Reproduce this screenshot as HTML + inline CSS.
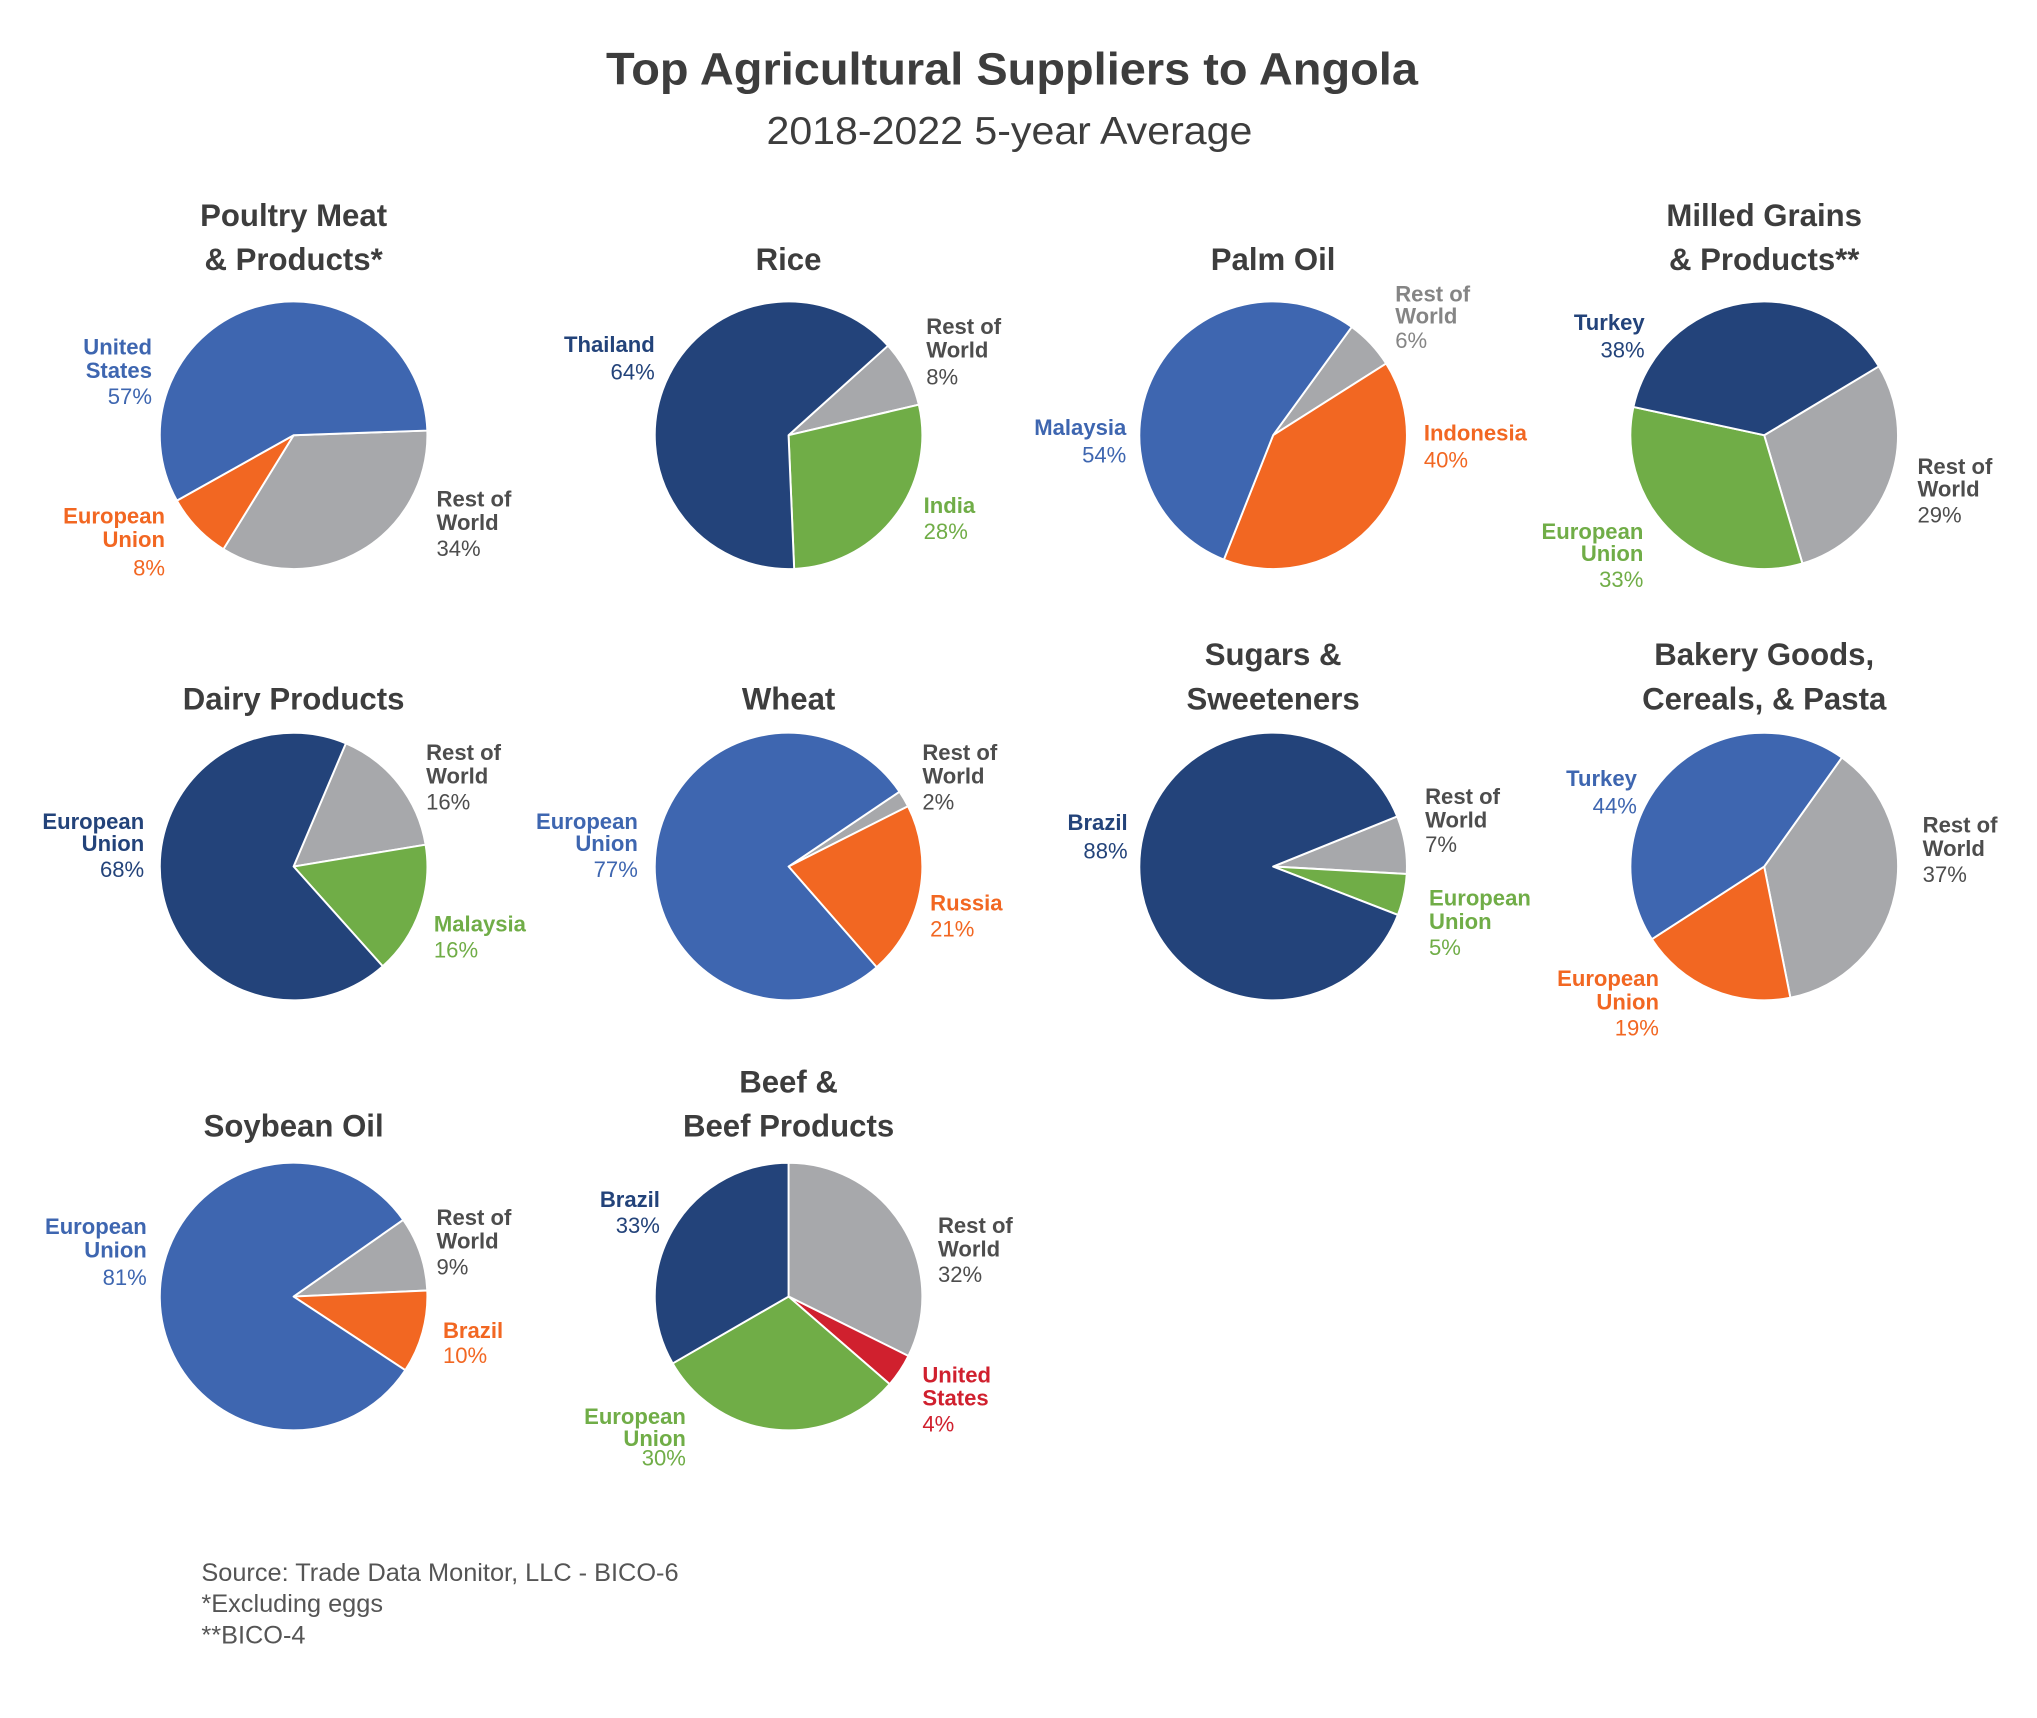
<!DOCTYPE html>
<html><head><meta charset="utf-8"><style>
html,body{margin:0;padding:0;background:#fff;}
svg{display:block;font-family:"Liberation Sans",Arial,sans-serif;}
</style></head><body>
<svg id="chart" width="2037" height="1718" viewBox="0 0 1568 1322.4" xmlns="http://www.w3.org/2000/svg">
<rect width="1568" height="1322.4" fill="#fff"/>
<text x="779" y="65" text-anchor="middle" font-size="35" font-weight="bold" fill="#3d3d3d" textLength="625" lengthAdjust="spacingAndGlyphs">Top Agricultural Suppliers to Angola</text>
<text x="777" y="111" text-anchor="middle" font-size="30" fill="#3d3d3d" textLength="374" lengthAdjust="spacingAndGlyphs">2018-2022 5-year Average</text>
<g id="pies"></g>
<g font-size="19.5" fill="#555">
<text x="155" y="1217">Source: Trade Data Monitor, LLC - BICO-6</text>
<text x="155" y="1241">*Excluding eggs</text>
<text x="155" y="1265">**BICO-4</text>
</g>
</svg>
<script>
const C={blue:"#3E66B0",navy:"#23437A",gray:"#A7A8AB",orange:"#F26722",green:"#70AD47",red:"#D0202E",txt:"#4D4D4D",ltxt:"#858585"};
const chartNames=["Poultry Meat & Products*","Rice","Palm Oil","Milled Grains & Products**","Dairy Products","Wheat","Sugars & Sweeteners","Bakery Goods, Cereals, & Pasta","Soybean Oil","Beef & Beef Products"];
const sliceNames=[["Rest of World","European Union","United States"],["Rest of World","India","Thailand"],["Rest of World","Indonesia","Malaysia"],["Rest of World","European Union","Turkey"],["Rest of World","Malaysia","European Union"],["Rest of World","Russia","European Union"],["Rest of World","European Union","Brazil"],["Rest of World","European Union","Turkey"],["Rest of World","Brazil","European Union"],["Rest of World","United States","European Union","Brazil"]];
const sliceValues=[[34,8,57],[8,28,64],[6,40,54],[29,33,38],[16,16,68],[2,21,77],[7,5,88],[37,19,44],[9,10,81],[32,4,30,33]];
const sliceColors=[["gray","orange","blue"],["gray","green","navy"],["gray","orange","blue"],["gray","green","navy"],["gray","green","navy"],["gray","orange","blue"],["gray","green","navy"],["gray","orange","blue"],["gray","orange","blue"],["gray","red","green","navy"]];
const startAngles=[88,48,36,59,23,56,68,35.5,55,0];
const centers=[[226,335],[607,335],[980,335],[1358,335],[226,667],[607,667],[980,667],[1358,667],[226,998],[607,998]];
const titleLines=[[["Poultry Meat",174],["& Products*",208]],[["Rice",208]],[["Palm Oil",208]],[["Milled Grains",174],["& Products**",208]],[["Dairy Products",546]],[["Wheat",546]],[["Sugars &",512],["Sweeteners",546]],[["Bakery Goods,",512],["Cereals, & Pasta",546]],[["Soybean Oil",875]],[["Beef &",841],["Beef Products",875]]];
const labelPos=[
 [[336,"start",[390,408,428]],[127,"end",[403,421,443]],[117,"end",[273,291,311]]],
 [[713,"start",[257,275,296]],[711,"start",[395,415]],[504,"end",[271,292]]],
 [[1074,"start",[232,249,268]],[1096,"start",[339,360]],[867,"end",[335,356]]],
 [[1476,"start",[365,382,402]],[1265,"end",[415,432,452]],[1266,"end",[254,275]]],
 [[328,"start",[585,603,623]],[334,"start",[717,737]],[111,"end",[638,655,675]]],
 [[710,"start",[585,603,623]],[716,"start",[701,721]],[491,"end",[638,655,675]]],
 [[1097,"start",[619,637,656]],[1100,"start",[697,715,735]],[868,"end",[639,661]]],
 [[1480,"start",[641,659,679]],[1277,"end",[759,777,797]],[1260,"end",[605,626]]],
 [[336,"start",[943,961,981]],[341,"start",[1030,1049]],[113,"end",[950,968,989]]],
 [[722,"start",[949,967,987]],[710,"start",[1064,1082,1102]],[528,"end",[1096,1113,1128]],[508,"end",[929,949]]]
];
const R=103;
const NS="http://www.w3.org/2000/svg";
const root=document.getElementById("pies");
function pt(cx,cy,deg){const a=deg*Math.PI/180;return [cx+R*Math.sin(a),cy-R*Math.cos(a)];}
function mk(tag,attrs){const e=document.createElementNS(NS,tag);for(const k in attrs)e.setAttribute(k,attrs[k]);return e;}
function slug(s){return s.toLowerCase().replace(/[^a-z0-9]+/g,"-").replace(/^-|-$/g,"");}
chartNames.forEach((name,i)=>{
 const g=mk("g",{});
 
 
 root.appendChild(g);
 const [cx,cy]=centers[i];
 titleLines[i].forEach(([t,y])=>{
  const tx=mk("text",{x:cx,y:y,"text-anchor":"middle","font-size":"24","font-weight":"bold",fill:"#3d3d3d"});
  
  
  tx.textContent=t;g.appendChild(tx);
 });
 const vals=sliceValues[i];const tot=vals.reduce((a,b)=>a+b,0);
 let ang=startAngles[i];
 vals.forEach((v,j)=>{
  const sweep=v/tot*360;
  const p0=pt(cx,cy,ang),p1=pt(cx,cy,ang+sweep);
  const d=`M${cx},${cy}L${p0[0]},${p0[1]}A${R},${R} 0 ${sweep>180?1:0} 1 ${p1[0]},${p1[1]}Z`;
  const p=mk("path",{d:d,fill:C[sliceColors[i][j]],stroke:"#fff","stroke-width":"1.5","stroke-linejoin":"round"});
  
  
  g.appendChild(p);
  ang+=sweep;
  const [lx,anchor,ys]=labelPos[i][j];
  let col=C[sliceColors[i][j]];
  if(sliceColors[i][j]==="gray") col=(i===2?C.ltxt:C.txt);
  const words=sliceNames[i][j]==="Rest of World"?["Rest of","World"]:(sliceNames[i][j].indexOf(" ")>0?sliceNames[i][j].split(" "):[sliceNames[i][j]]);
  const lines=words.concat([v+"%"]);
  const lab=mk("text",{"text-anchor":anchor,"font-size":"17",fill:col});
  
  
  lines.forEach((t,k)=>{
   const ts=mk("tspan",{x:lx,y:ys[k]!==undefined?ys[k]:ys[ys.length-1]+18,"font-weight":k<lines.length-1?"bold":"normal"});
   ts.textContent=t;lab.appendChild(ts);
  });
  g.appendChild(lab);
 });
});
</script>
</body></html>
